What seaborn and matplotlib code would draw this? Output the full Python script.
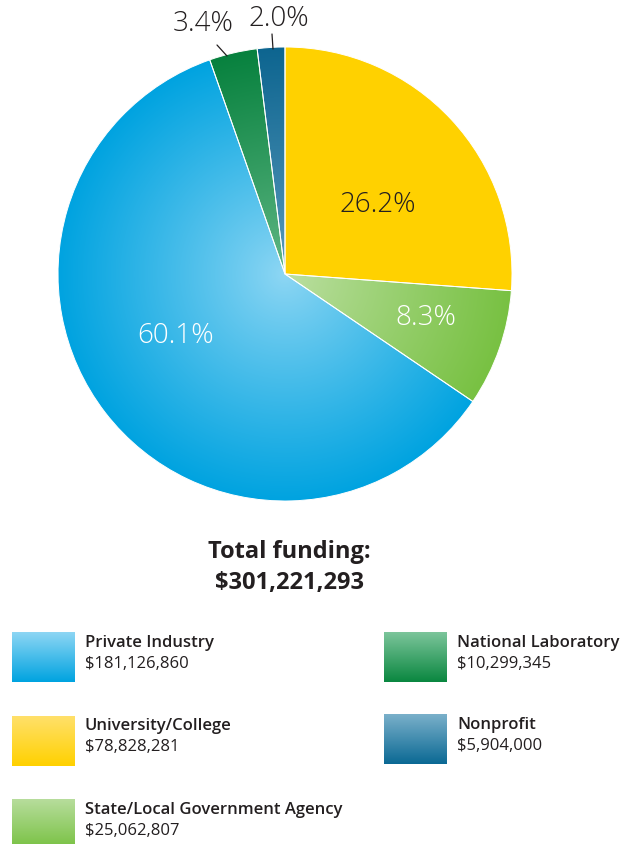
"""
Pie chart of total funding by source, with radial gradient slices.
"""

import numpy as np
import matplotlib.pyplot as plt
import matplotlib.colors as mcolors
import seaborn as sns

# data, clockwise from 12 o'clock
categorias = ["University/College", "State/Local Government Agency",
              "Private Industry", "National Laboratory", "Nonprofit"]
financiamento = [78828281, 25062807, 181126860, 10299345, 5904000]

# legend order (two columns)
legenda_esq = ["Private Industry", "University/College", "State/Local Government Agency"]
legenda_dir = ["National Laboratory", "Nonprofit"]

CORES = {
    "University/College":            ("#ffe06a", "#ffd100"),
    "State/Local Government Agency": ("#b7dd9c", "#78c142"),
    "Private Industry":              ("#8dd6f4", "#00a3e0"),
    "National Laboratory":           ("#7cc59b", "#0a8740"),
    "Nonprofit":                     ("#7ab0ca", "#0b6994"),
}
CORES_PIE = {
    "University/College":            ("#ffd200", "#ffd100"),
    "State/Local Government Agency": ("#bde0a4", "#78c142"),
    "Private Industry":              ("#8fd7f4", "#00a3e0"),
    "National Laboratory":           ("#63b987", "#07813e"),
    "Nonprofit":                     ("#5d9cbd", "#0d6590"),
}
TEXTO = "#231f20"

sns.set_theme(style="white")
plt.rcParams["font.family"] = ["Open Sans", "DejaVu Sans"]

W, H = 624, 845
fig = plt.figure(figsize=(W / 100, H / 100), dpi=100)
ax = fig.add_axes([0, 0, 1, 1])


def fy(y):
    # pixel row -> data y (y axis points up)
    return H - y


CX, CY, R = 285, fy(275), 227

wedges, _ = ax.pie(financiamento, startangle=90, counterclock=False,
                   center=(CX, CY), radius=R, frame=True,
                   wedgeprops=dict(facecolor="none", edgecolor="white",
                                   linewidth=0.7, zorder=3))

# radial gradient inside every slice
n = 500
xs = np.linspace(CX - R, CX + R, n)
ys = np.linspace(CY - R, CY + R, n)
XX, YY = np.meshgrid(xs, ys)
t = np.clip(np.hypot(XX - CX, YY - CY) / R, 0, 1)[..., None]
for w, cat in zip(wedges, categorias):
    c0 = np.array(mcolors.to_rgb(CORES_PIE[cat][0]))
    c1 = np.array(mcolors.to_rgb(CORES_PIE[cat][1]))
    img = c0 * (1 - t ** 0.9) + c1 * t ** 0.9
    im = ax.imshow(img, extent=(CX - R, CX + R, CY - R, CY + R),
                   origin="lower", zorder=2, interpolation="bilinear")
    im.set_clip_path(w)

# percentage labels
total = sum(financiamento)
pcts = [f"{100 * v / total:.1f}%" for v in financiamento]
pos_rotulos = [(378, 205), (426, 318), (176, 336), (203, 24), (279, 19)]
cor_rotulos = [TEXTO, "white", "white", TEXTO, TEXTO]
for p, (px, py), c in zip(pcts, pos_rotulos, cor_rotulos):
    ax.text(px, fy(py), p, ha="center", va="center", fontsize=20,
            fontweight="light", color=c, zorder=5)

# leader lines for the small slices
ax.plot([217, 227], [fy(46), fy(57)], color=TEXTO, lw=0.9, zorder=5)
ax.plot([272, 273], [fy(35), fy(50)], color=TEXTO, lw=0.9, zorder=5)

# total
ax.text(289, fy(552), "Total funding:", ha="center", va="center",
        fontsize=17, fontweight="bold", color=TEXTO)
ax.text(289, fy(583), f"${total:,}", ha="center", va="center",
        fontsize=17, fontweight="bold", color=TEXTO)

# legend with gradient swatches
valores = dict(zip(categorias, financiamento))
grad = np.linspace(0, 1, 100)[:, None, None]


def item_legenda(x, y, cat):
    c0 = np.array(mcolors.to_rgb(CORES[cat][0]))
    c1 = np.array(mcolors.to_rgb(CORES[cat][1]))
    img = c0 * (1 - grad) + c1 * grad
    img = np.repeat(img, 2, axis=1)
    ax.imshow(img, extent=(x, x + 63, fy(y + 50), fy(y)), origin="upper",
              zorder=2, interpolation="bilinear")
    ax.text(x + 73, fy(y + 10), cat, ha="left", va="center", fontsize=12,
            fontweight="semibold", color=TEXTO)
    ax.text(x + 73, fy(y + 31), f"${valores[cat]:,}", ha="left", va="center",
            fontsize=12, color=TEXTO)


for i, cat in enumerate(legenda_esq):
    item_legenda(12, 633 + i * 83.5, cat)
for i, cat in enumerate(legenda_dir):
    item_legenda(384, 633 + i * 82, cat)

ax.set_xlim(0, W)
ax.set_ylim(0, H)
ax.set_aspect("auto")
ax.axis("off")

fig.savefig("out.png", dpi=100, facecolor="white")
plt.close(fig)
